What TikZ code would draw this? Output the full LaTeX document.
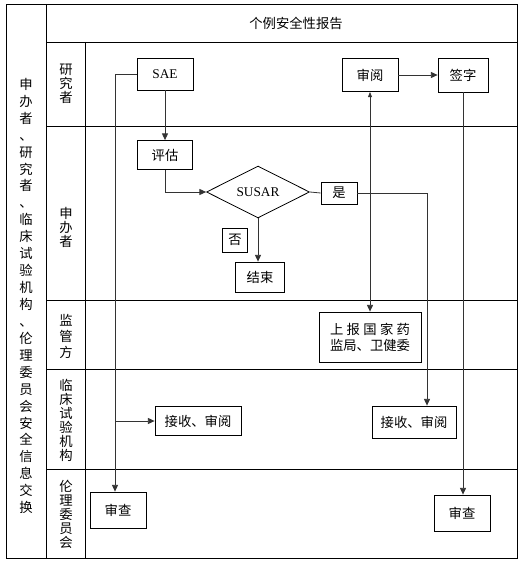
\documentclass[tikz,border=0pt]{standalone}
\usepackage{fontspec}
\setmainfont{Liberation Serif}
\newfontfamily\cjk{Noto Sans CJK SC}
\usetikzlibrary{arrows.meta,shapes.geometric}

\begin{document}
\begin{tikzpicture}[x=0.75pt, y=-0.75pt,
  frame/.style={line width=0.6pt},
  box/.style={draw, line width=0.6pt, inner sep=0pt, align=center, font=\cjk\fontsize{10}{12}\selectfont},
  lane/.style={inner sep=0pt, align=center, font=\cjk\fontsize{10}{10.5}\selectfont},
  flow/.style={draw=black!80, line width=0.6pt, -{Triangle[length=5pt,width=4.5pt]}},
  twoway/.style={draw=black!80, line width=0.6pt, {Triangle[length=4pt,width=3pt]}-{Triangle[length=5pt,width=4.5pt]}}
]
  \useasboundingbox (0,0) rectangle (525,567);

  % swimlane frame
  \draw[frame] (6,4) rectangle (517,558);
  \draw[frame] (46,4) -- (46,558);
  \draw[frame] (46,42) -- (517,42);
  \draw[frame] (85,42) -- (85,558);
  \foreach \y in {126,300,369,469}
    \draw[frame] (46,\y) -- (517,\y);

  % headers
  \node[lane, font=\cjk\fontsize{10}{12}\selectfont] (title) at (296,23) {个例安全性报告};
  \node[lane, font=\cjk\fontsize{10}{12.7}\selectfont] (exchange) at (26,296)
    {申\\办\\者\\、\\研\\究\\者\\、\\临\\床\\试\\验\\机\\构\\、\\伦\\理\\委\\员\\会\\安\\全\\信\\息\\交\\换};
  \node[lane] (investigator) at (66,84) {研\\究\\者};
  \node[lane] (sponsor) at (66,227) {申\\办\\者};
  \node[lane, font=\cjk\fontsize{10}{12}\selectfont] (regulator) at (66,336) {监\\管\\方};
  \node[lane] (site) at (66,420) {临\\床\\试\\验\\机\\构};
  \node[lane] (ethics) at (66,514) {伦\\理\\委\\员\\会};

  % steps
  \node[box, font=\fontsize{10}{12}\selectfont, minimum width=42pt, minimum height=24pt] (sae) at (165,74) {SAE};
  \node[box, minimum width=42pt, minimum height=24.75pt] (review) at (370,75) {审阅};
  \node[box, minimum width=37.5pt, minimum height=25.5pt] (sign) at (463,75) {签字};
  \node[box, minimum width=41.25pt, minimum height=21.75pt] (assess) at (165,155) {评估};
  \node[box, diamond, font=\fontsize{10}{12}\selectfont, minimum width=77.25pt, minimum height=36pt] (susar) at (258,192) {SUSAR};
  \node[box, minimum width=27pt, minimum height=16.5pt] (yes) at (339,193) {是};
  \node[box, minimum width=18.75pt, minimum height=18pt] (no) at (235,240) {否};
  \node[box, minimum width=36.75pt, minimum height=22.5pt] (stop) at (260,277) {结束};
  \node[box, minimum width=76.5pt, minimum height=37.5pt] (report) at (370,337)
    {上\hspace{2.5pt}报\hspace{2.5pt}国\hspace{2.5pt}家\hspace{2.5pt}药\\监局、卫健委};
  \node[box, minimum width=64.5pt, minimum height=21.75pt] (receiveL) at (198,421) {接收、审阅};
  \node[box, minimum width=63pt, minimum height=24pt] (receiveR) at (414,422) {接收、审阅};
  \node[box, minimum width=42pt, minimum height=27pt] (checkL) at (118,510) {审查};
  \node[box, minimum width=42pt, minimum height=27pt] (checkR) at (462,513) {审查};

  \coordinate (split) at (115,421);

  % connectors
  \draw[flow] (sae) -- (assess);
  \draw[flow] (assess.south) |- (susar.west);
  \draw[draw=black!80, line width=0.6pt] (sae.west) -| (split);
  \draw[flow] (split) -- (split |- checkL.north);
  \draw[flow] (split) -- (receiveL.west);
  \draw[draw=black!80, line width=0.6pt] (susar.east) -- (yes.west);
  \draw[flow] (yes.east) -| ([xshift=9.75pt]receiveR.north);
  \draw[flow] (susar.south) -- (susar.south |- stop.north);
  \draw[twoway] (review.south) -- (report.north);
  \draw[flow] (review) -- (sign);
  \draw[flow] (sign.south) -- (sign.south |- checkR.north);
\end{tikzpicture}
\end{document}
